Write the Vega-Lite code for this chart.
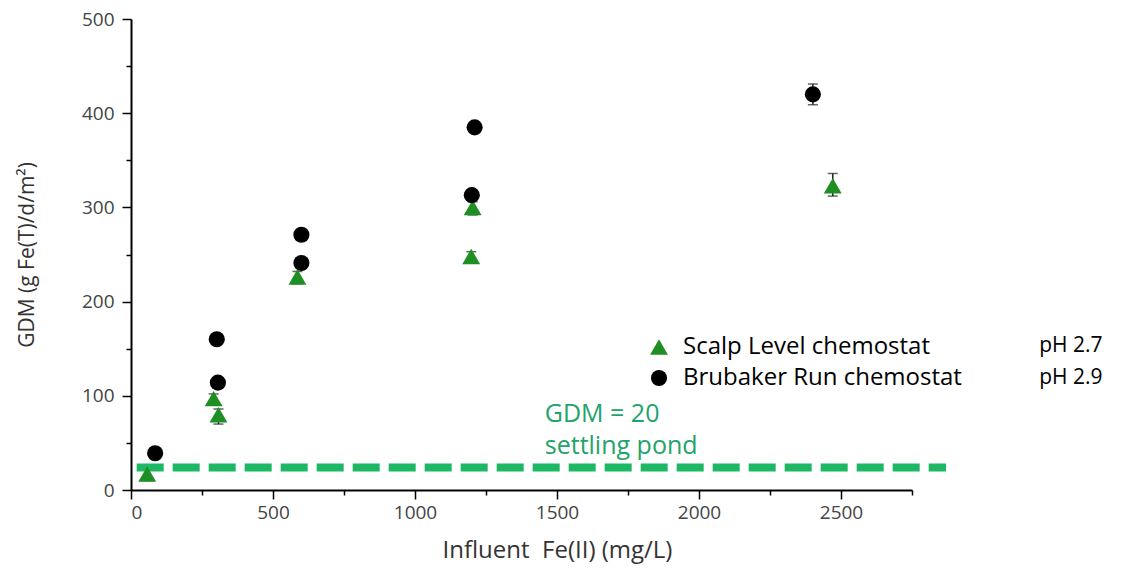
{
  "$schema": "https://vega.github.io/schema/vega-lite/v6.json",
  "autosize": {"type": "none"},
  "padding": {"left": 131, "top": 19, "right": 236, "bottom": 81},
  "width": 781,
  "height": 471,
  "background": "white",
  "config": {
    "view": {"stroke": null},
    "font": "Open Sans",
    "axis": {
      "domainColor": "black",
      "domainWidth": 2,
      "tickColor": "black",
      "tickWidth": 1.5,
      "labelColor": "#444",
      "labelFontSize": 19,
      "labelFont": "Open Sans",
      "titleFont": "Open Sans",
      "titleFontWeight": "normal",
      "titleColor": "#333",
      "grid": false
    },
    "legend": {
      "labelFontSize": 24,
      "labelColor": "black",
      "labelFont": "Open Sans",
      "labelLimit": 0,
      "symbolSize": 280,
      "rowPadding": 7,
      "labelOffset": 12
    }
  },
  "datasets": {
    "pts": [
      {"series": "Scalp Level chemostat", "fe": 57, "gdm": 17, "lo": 10, "hi": 22},
      {"series": "Scalp Level chemostat", "fe": 291, "gdm": 97, "lo": 92, "hi": 102},
      {"series": "Scalp Level chemostat", "fe": 308, "gdm": 80, "lo": 70, "hi": 86},
      {"series": "Scalp Level chemostat", "fe": 586, "gdm": 226, "lo": 219, "hi": 232},
      {"series": "Scalp Level chemostat", "fe": 1203, "gdm": 300, "lo": 292, "hi": 306},
      {"series": "Scalp Level chemostat", "fe": 1198, "gdm": 248, "lo": 242, "hi": 253},
      {"series": "Scalp Level chemostat", "fe": 2471, "gdm": 323, "lo": 312, "hi": 336},
      {"series": "Brubaker Run chemostat", "fe": 85, "gdm": 39, "lo": 36, "hi": 42},
      {"series": "Brubaker Run chemostat", "fe": 302, "gdm": 160, "lo": 157, "hi": 163},
      {"series": "Brubaker Run chemostat", "fe": 306, "gdm": 114, "lo": 110, "hi": 118},
      {"series": "Brubaker Run chemostat", "fe": 600, "gdm": 271, "lo": 268, "hi": 274},
      {"series": "Brubaker Run chemostat", "fe": 600, "gdm": 241, "lo": 238, "hi": 244},
      {"series": "Brubaker Run chemostat", "fe": 1210, "gdm": 385, "lo": 382, "hi": 388},
      {"series": "Brubaker Run chemostat", "fe": 1200, "gdm": 313, "lo": 309, "hi": 317},
      {"series": "Brubaker Run chemostat", "fe": 2401, "gdm": 420, "lo": 409, "hi": 431}
    ]
  },
  "layer": [
    {
      "data": {"name": "pts"},
      "mark": {"type": "errorbar", "ticks": {"size": 10}, "color": "#1c2a1c", "thickness": 1.5},
      "encoding": {
        "x": {"field": "fe", "type": "quantitative",
          "scale": {"domain": [0, 2750], "nice": false},
          "axis": {
            "values": [0, 250, 500, 750, 1000, 1250, 1500, 1750, 2000, 2250, 2500, 2750],
            "labelExpr": "datum.value % 500 === 0 ? datum.label : ''",
            "format": "d",
            "tickSize": {"condition": {"test": "datum.value % 500 === 0", "value": 9}, "value": 5},
            "labelPadding": 4,
            "title": "Influent\u00a0\u00a0Fe(II) (mg/L)",
            "titleFontSize": 24,
            "titleX": 426,
            "titlePadding": 16
          }
        },
        "y": {"field": "lo", "type": "quantitative",
          "scale": {"domain": [0, 500], "nice": false},
          "axis": {
            "values": [0, 50, 100, 150, 200, 250, 300, 350, 400, 450, 500],
            "labelExpr": "datum.value % 100 === 0 ? datum.label : ''",
            "tickSize": {"condition": {"test": "datum.value % 100 === 0", "value": 9}, "value": 5},
            "labelPadding": 8,
            "title": "GDM (g Fe(T)/d/m²)",
            "titleFontSize": 21,
            "titlePadding": 44
          }
        },
        "y2": {"field": "hi"}
      }
    },
    {
      "data": {"values": [{}]},
      "mark": {"type": "rule", "color": "#1db863", "strokeWidth": 8, "strokeDash": [27, 9], "strokeCap": "butt"},
      "encoding": {
        "x": {"datum": 20, "type": "quantitative"},
        "x2": {"datum": 2870},
        "y": {"datum": 24, "type": "quantitative"}
      }
    },
    {
      "data": {"name": "pts"},
      "mark": {"type": "point", "filled": true, "opacity": 1},
      "encoding": {
        "x": {"field": "fe", "type": "quantitative"},
        "y": {"field": "gdm", "type": "quantitative"},
        "shape": {"field": "series", "type": "nominal",
          "scale": {"domain": ["Scalp Level chemostat", "Brubaker Run chemostat"], "range": ["triangle-up", "circle"]},
          "legend": {"title": null, "orient": "none", "legendX": 516, "legendY": 316}
        },
        "color": {"field": "series", "type": "nominal",
          "scale": {"domain": ["Scalp Level chemostat", "Brubaker Run chemostat"], "range": ["#1f8f24", "black"]},
          "legend": {"title": null, "orient": "none", "legendX": 516, "legendY": 316}
        },
        "size": {"field": "series", "type": "nominal",
          "scale": {"domain": ["Scalp Level chemostat", "Brubaker Run chemostat"], "range": [320, 260]},
          "legend": null
        }
      }
    },
    {
      "data": {"values": [{}]},
      "mark": {"type": "text", "align": "left", "baseline": "alphabetic", "fontSize": 25, "color": "#22a36b", "lineHeight": 32, "font": "Open Sans"},
      "encoding": {
        "x": {"datum": 1457, "type": "quantitative"},
        "y": {"datum": 72, "type": "quantitative"},
        "text": {"value": ["GDM = 20", "settling pond"]}
      }
    },
    {
      "data": {"values": [
        {"ph": "pH 2.7", "px": 3198, "py": 153},
        {"ph": "pH 2.9", "px": 3198, "py": 119}
      ]},
      "mark": {"type": "text", "align": "left", "baseline": "middle", "fontSize": 21, "color": "black", "font": "Open Sans"},
      "encoding": {
        "x": {"field": "px", "type": "quantitative"},
        "y": {"field": "py", "type": "quantitative"},
        "text": {"field": "ph"}
      }
    }
  ]
}
